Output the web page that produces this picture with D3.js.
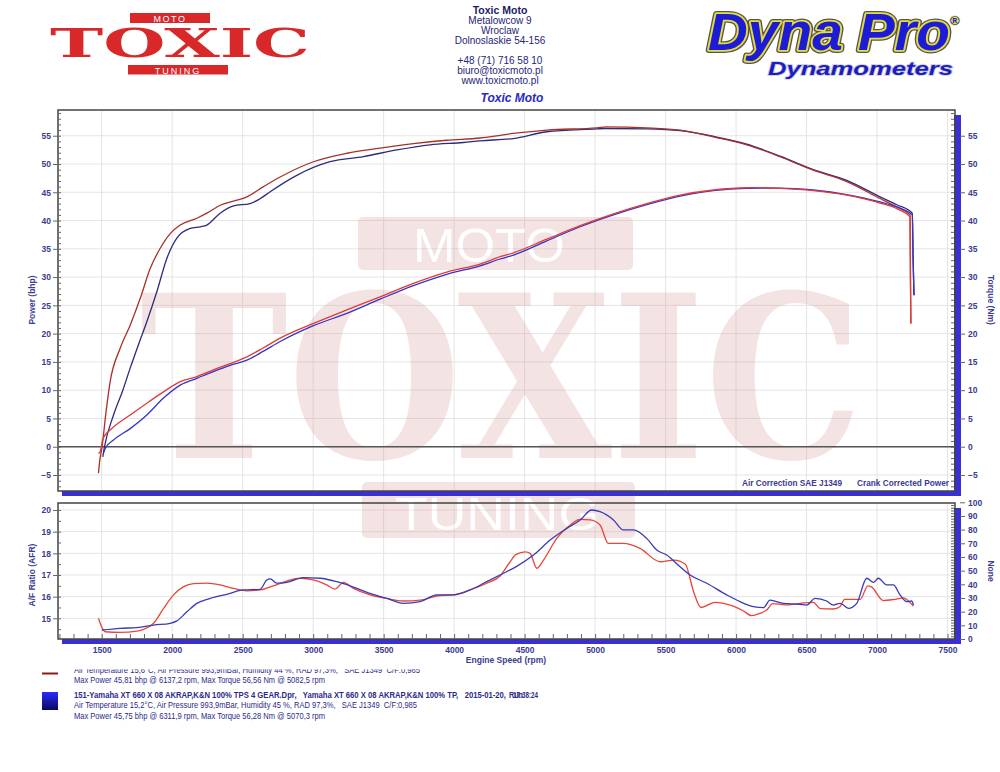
<!DOCTYPE html>
<html><head><meta charset="utf-8">
<script src="https://cdn.jsdelivr.net/npm/d3@7"></script>
<style>
body{margin:0;background:#fff}
svg{display:block}
text{font-family:"Liberation Sans",Arial,Helvetica,sans-serif;white-space:pre}
</style>
</head><body>
<svg id="c" width="1000" height="772"></svg>
<script>
// ---------------- DATA ----------------
const rpmTicks = [1500,2000,2500,3000,3500,4000,4500,5000,5500,6000,6500,7000,7500];
const powerTicks = [-5,0,5,10,15,20,25,30,35,40,45,50,55];
const torqueTicks = [-5,0,5,10,15,20,25,30,35,40,45,50,55];
const afrTicks = [15,16,17,18,19,20];
const noneTicks = [0,10,20,30,40,50,60,70,80,90,100];

// [rpm, Nm]
const torqueRed = [[1477,-4.7],[1486,-2.5],[1501,-0.3],[1530,6],[1560,11.5],[1631,17.4],[1702,21.5],[1773,26.2],[1844,31.5],[1915,35.1],[1986,37.7],[2057,39.2],[2175,40.4],[2246,41.3],[2340,42.7],[2459,43.6],[2530,44.2],[2648,46.0],[2766,47.7],[3002,50.4],[3239,51.9],[3475,52.8],[3711,53.6],[3948,54.2],[4184,54.6],[4421,55.4],[4657,56.0],[5012,56.4],[5082,56.56],[5367,56.4],[5603,56.0],[5839,54.8],[6076,53.4],[6312,51.3],[6548,48.9],[6785,46.9],[7021,43.9],[7140,42.4],[7234,41.0],[7237,30],[7240,21.8]];
const torqueBlue = [[1508,-1.8],[1520,0],[1584,5.6],[1650,10],[1702,13.9],[1760,18],[1820,22.1],[1891,27.4],[1962,33.3],[2033,36.9],[2128,38.6],[2200,38.9],[2246,39.2],[2340,41.3],[2435,42.6],[2553,43.0],[2620,43.8],[2695,45.1],[2884,48.0],[3120,50.4],[3357,51.3],[3594,52.5],[3830,53.4],[4066,53.8],[4184,54.1],[4420,54.5],[4657,55.7],[5012,56.2],[5070,56.28],[5367,56.2],[5603,55.9],[5839,54.9],[6076,53.5],[6312,51.4],[6548,49.0],[6785,47.1],[7021,44.2],[7140,42.8],[7250,41.3],[7256,33],[7262,26.8]];
// [rpm, bhp]
const powerRed = [[1477,-1.2],[1489,-0.9],[1510,1.5],[1560,2.95],[1702,5.6],[1820,7.7],[1938,9.7],[2057,11.5],[2175,12.4],[2293,13.6],[2411,14.7],[2530,15.9],[2648,17.5],[2766,19.2],[3002,21.8],[3239,24.2],[3475,26.5],[3711,28.9],[3948,30.9],[4184,32.3],[4326,33.6],[4421,34.3],[4657,36.7],[4894,39.1],[5130,41.2],[5367,43.0],[5603,44.5],[5839,45.4],[6076,45.8],[6137,45.81],[6312,45.7],[6548,45.3],[6785,44.5],[7021,43.1],[7140,42.1],[7234,40.6],[7237,30],[7240,21.8]];
const powerBlue = [[1515,-1.0],[1525,-0.3],[1584,1.2],[1702,3.2],[1820,5.6],[1938,8.6],[2057,10.9],[2175,12.1],[2293,13.3],[2411,14.4],[2530,15.3],[2648,16.9],[2766,18.6],[3002,21.4],[3239,23.6],[3475,26.1],[3711,28.5],[3948,30.5],[4184,32.0],[4326,33.2],[4421,33.9],[4657,36.4],[4894,38.9],[5130,41.0],[5367,42.8],[5603,44.3],[5839,45.3],[6076,45.7],[6312,45.75],[6548,45.4],[6785,44.6],[7021,43.3],[7140,42.4],[7250,41.0],[7256,33],[7262,26.8]];
// [rpm, AFR]
const afrRed = [[1477,15.0],[1489,14.77],[1525,14.38],[1631,14.35],[1750,14.41],[1797,14.49],[1868,14.77],[1939,15.46],[2010,16.08],[2081,16.46],[2152,16.6],[2246,16.62],[2340,16.54],[2435,16.38],[2530,16.27],[2624,16.31],[2718,16.5],[2813,16.72],[2907,16.85],[3002,16.77],[3096,16.54],[3156,16.35],[3215,16.66],[3286,16.38],[3404,16.08],[3522,15.92],[3641,15.8],[3759,15.84],[3877,16.03],[3995,16.08],[4113,16.31],[4232,16.62],[4326,16.95],[4397,17.61],[4440,17.95],[4504,18.07],[4539,18.0],[4587,17.31],[4634,17.69],[4728,18.69],[4823,19.31],[4894,19.57],[4965,19.54],[5035,19.31],[5094,18.46],[5200,18.46],[5319,18.23],[5461,17.61],[5560,17.69],[5640,17.5],[5700,16.2],[5750,15.5],[5850,15.74],[5981,15.56],[6050,15.35],[6110,15.12],[6170,15.23],[6217,15.38],[6260,15.68],[6350,15.62],[6454,15.69],[6548,15.74],[6596,15.45],[6690,15.43],[6738,15.55],[6770,15.87],[6880,15.87],[6935,16.5],[6960,16.45],[7045,15.82],[7120,15.87],[7187,15.94],[7230,15.75],[7258,15.56]];
const afrBlue = [[1501,14.46],[1631,14.54],[1750,14.57],[1868,14.69],[1986,14.77],[2033,14.88],[2104,15.3],[2175,15.69],[2270,15.92],[2388,16.11],[2506,16.31],[2624,16.34],[2671,16.77],[2695,16.82],[2742,16.62],[2813,16.66],[2931,16.88],[3050,16.85],[3168,16.69],[3262,16.5],[3404,16.15],[3522,15.92],[3641,15.69],[3759,15.77],[3877,16.08],[3995,16.08],[4113,16.31],[4232,16.69],[4350,17.08],[4444,17.4],[4563,17.92],[4681,18.61],[4799,19.15],[4894,19.54],[4976,20.0],[5035,19.92],[5130,19.54],[5200,19.08],[5271,19.08],[5366,18.69],[5437,18.15],[5508,17.92],[5603,17.38],[5674,17.0],[5792,16.62],[5934,16.08],[6028,15.77],[6123,15.54],[6194,15.49],[6241,15.84],[6336,15.69],[6454,15.65],[6501,15.61],[6560,15.92],[6643,15.8],[6690,15.61],[6738,15.69],[6797,15.46],[6856,15.69],[6927,16.85],[6974,16.66],[7009,16.85],[7069,16.54],[7116,16.54],[7163,16.08],[7210,15.77],[7246,15.8],[7258,15.61]];

const headerLines = ["Metalowcow 9","Wroclaw","Dolnoslaskie 54-156"];
const contactLines = ["+48 (71) 716 58 10","biuro@toxicmoto.pl","www.toxicmoto.pl"];
const run1Text = ["Air Temperature 15,6°C, Air Pressure 993,9mBar, Humidity 44 %, RAD 97,3%,   SAE J1349  C/F:0,985",
                  "Max Power 45,81 bhp @ 6137,2 rpm, Max Torque 56,56 Nm @ 5082,5 rpm"];
const run2Text = ["151-Yamaha XT 660 X 08 AKRAP,K&N 100% TPS 4 GEAR.Dpr,   Yamaha XT 660 X 08 AKRAP,K&N 100% TP,   2015-01-20,",
                  "Air Temperature 15,2°C, Air Pressure 993,9mBar, Humidity 45 %, RAD 97,3%,   SAE J1349  C/F:0,985",
                  "Max Power 45,75 bhp @ 6311,9 rpm, Max Torque 56,28 Nm @ 5070,3 rpm"];

// ---------------- LAYOUT ----------------
const svg = d3.select('#c');
const FX0 = 58, FX1 = 955;
const T0 = 110, T1 = 491;   // top frame
const B0 = 503, B1 = 639;   // bottom frame
const navy = '#3b3b92';
const blueBar = '#3a30d2';
const fmt = d3.format('d');

const x = d3.scaleLinear().domain([1190,7553]).range([FX0,FX1]);
const yTop = d3.scaleLinear().domain([-7.83,59.55]).range([T1,T0]);
const yAfr = d3.scaleLinear().domain([14.045,20.323]).range([B1,B0]);
const yNone = d3.scaleLinear().domain([0,100]).range([B1,502.3]);

const defs = svg.append('defs');
defs.append('clipPath').attr('id','clipTop').append('rect').attr('x',FX0).attr('y',T0).attr('width',FX1-FX0).attr('height',T1-T0);
defs.append('clipPath').attr('id','clipBot').append('rect').attr('x',FX0).attr('y',B0).attr('width',FX1-FX0).attr('height',B1-B0);
defs.append('clipPath').attr('id','clipLeg').append('rect').attr('x',0).attr('y',669.2).attr('width',1000).attr('height',12);
const grad = defs.append('linearGradient').attr('id','sw').attr('x1',0).attr('y1',0).attr('x2',0).attr('y2',1);
grad.append('stop').attr('offset','0%').attr('stop-color','#2a2aff');
grad.append('stop').attr('offset','100%').attr('stop-color','#0a0a5a');

// ---------- grid ----------
const grid = svg.append('g').attr('stroke','#e4e4e4').attr('stroke-width',1);
grid.selectAll('.vt').data(rpmTicks).join('line').attr('class','vt')
  .attr('x1',d=>x(d)).attr('x2',d=>x(d)).attr('y1',T0).attr('y2',T1);
grid.selectAll('.ht').data(powerTicks).join('line').attr('class','ht')
  .attr('x1',FX0).attr('x2',FX1).attr('y1',d=>yTop(d)).attr('y2',d=>yTop(d));
grid.selectAll('.vb').data(rpmTicks).join('line').attr('class','vb')
  .attr('x1',d=>x(d)).attr('x2',d=>x(d)).attr('y1',B0).attr('y2',B1);
grid.selectAll('.hb').data(afrTicks).join('line').attr('class','hb')
  .attr('x1',FX0).attr('x2',FX1).attr('y1',d=>yAfr(d)).attr('y2',d=>yAfr(d));

// ---------- watermark ----------
const wm = svg.append('g').attr('opacity',0.27);
wm.append('rect').attr('x',358).attr('y',217).attr('width',275).attr('height',53).attr('rx',5).attr('fill','#d99a9a');
wm.append('text').attr('x',413).attr('y',262).attr('font-size',49).attr('fill','#fff')
  .attr('textLength',152).attr('lengthAdjust','spacingAndGlyphs').text('MOTO');
wm.append('text').attr('x',140).attr('y',458).attr('font-size',226).attr('font-weight','bold')
  .style('font-family','"DejaVu Serif","Liberation Serif",serif')
  .attr('fill','#d99a9a').attr('textLength',723).attr('lengthAdjust','spacingAndGlyphs').text('TOXIC');
wm.append('rect').attr('x',362).attr('y',482).attr('width',273).attr('height',56).attr('rx',5).attr('fill','#d99a9a');
wm.append('text').attr('x',395).attr('y',530).attr('font-size',46).attr('fill','#fff')
  .attr('textLength',205).attr('lengthAdjust','spacingAndGlyphs').text('TUNING');

// ---------- blue shadow strips ----------
[[T0,T1],[B0,B1]].forEach(([a,b])=>{
  svg.append('rect').attr('x',FX0+4).attr('y',b).attr('width',FX1-FX0+2).attr('height',5).attr('fill',blueBar);
  svg.append('rect').attr('x',FX1-1).attr('y',a+5).attr('width',7).attr('height',b-a).attr('fill',blueBar);
});

// ---------- frames ----------
[[T0,T1],[B0,B1]].forEach(([a,b])=>{
  svg.append('rect').attr('x',FX0).attr('y',a).attr('width',FX1-FX0).attr('height',b-a)
    .attr('fill','none').attr('stroke','#444').attr('stroke-width',1.5);
});
svg.append('line').attr('x1',FX0).attr('x2',FX1).attr('y1',yTop(0)).attr('y2',yTop(0))
  .attr('stroke','#555').attr('stroke-width',1.3);

// ---------- axes ----------
function styleAxis(g){
  g.select('.domain').remove();
  g.selectAll('line').attr('stroke','#666');
  g.selectAll('text').attr('font-size',8.5).attr('font-weight','bold').attr('fill',navy)
    .style('font-family','"Liberation Sans",Arial,sans-serif');
}
svg.append('g').attr('transform',`translate(${FX0},0)`)
  .call(d3.axisLeft(yTop).tickValues(powerTicks).tickFormat(fmt).tickSize(5).tickPadding(2)).call(styleAxis);
svg.append('g').attr('transform',`translate(${FX0},0)`)
  .call(d3.axisRight(yTop).tickValues(d3.range(-7,60,1)).tickSize(3).tickFormat('')).call(styleAxis);
svg.append('g').attr('transform',`translate(960,0)`)
  .call(d3.axisRight(yTop).tickValues(torqueTicks).tickFormat(fmt).tickSize(5).tickPadding(3)).call(styleAxis);
svg.append('g').attr('transform',`translate(${FX1-1},0)`)
  .call(d3.axisLeft(yTop).tickValues(d3.range(-7,60,1)).tickSize(3).tickFormat('')).call(styleAxis);
svg.append('g').attr('transform',`translate(${FX0},0)`)
  .call(d3.axisLeft(yAfr).tickValues(afrTicks).tickFormat(fmt).tickSize(5).tickPadding(2)).call(styleAxis);
svg.append('g').attr('transform',`translate(${FX0},0)`)
  .call(d3.axisRight(yAfr).tickValues(d3.range(14.5,20.3,0.5)).tickSize(3).tickFormat('')).call(styleAxis);
svg.append('g').attr('transform',`translate(960,0)`)
  .call(d3.axisRight(yNone).tickValues(noneTicks).tickFormat(fmt).tickSize(5).tickPadding(3)).call(styleAxis);
svg.append('g').attr('transform',`translate(${FX1-1},0)`)
  .call(d3.axisLeft(yNone).tickValues(d3.range(2,100,2)).tickSize(3).tickFormat('')).call(styleAxis);
svg.append('g').attr('transform',`translate(0,${B1+5})`)
  .call(d3.axisBottom(x).tickValues(rpmTicks).tickFormat(fmt).tickSize(0).tickPadding(3)).call(styleAxis);
svg.append('g').attr('transform',`translate(0,${B1})`)
  .call(d3.axisTop(x).tickValues(d3.range(1200,7600,100)).tickSize(5).tickFormat('')).call(styleAxis);

// ---------- curves ----------
const lineTop = d3.line().x(d=>x(d[0])).y(d=>yTop(d[1])).curve(d3.curveMonotoneX);
const lineAfr = d3.line().x(d=>x(d[0])).y(d=>yAfr(d[1])).curve(d3.curveMonotoneX);
const gTop = svg.append('g').attr('clip-path','url(#clipTop)').attr('fill','none').attr('stroke-width',1.3);
[[torqueBlue,'#2c2c7a'],[torqueRed,'#a8302c'],[powerBlue,'#3434c8'],[powerRed,'#e03a3a']].forEach(([d,c])=>{
  gTop.append('path').datum(d).attr('d',lineTop).attr('stroke',c);
});
const gBot = svg.append('g').attr('clip-path','url(#clipBot)').attr('fill','none').attr('stroke-width',1.3);
[[afrRed,'#e8463a'],[afrBlue,'#3a3ab8']].forEach(([d,c])=>{
  gBot.append('path').datum(d).attr('d',lineAfr).attr('stroke',c);
});

// ---------- axis titles ----------
function title(txt,xx,yy,rot){
  svg.append('text').attr('transform',`translate(${xx},${yy}) rotate(${rot})`).attr('text-anchor','middle')
    .attr('font-size',8.5).attr('font-weight','bold').attr('fill',navy).text(txt);
}
title('Power (bhp)',35,300,-90);
title('Torque (Nm)',988,300,90);
title('A/F Ratio (AFR)',35,575,-90);
title('None',988,571,90);
svg.append('text').attr('x',506).attr('y',663).attr('text-anchor','middle').attr('font-size',8.5)
  .attr('font-weight','bold').attr('fill',navy).text('Engine Speed (rpm)');
svg.append('text').attr('x',742).attr('y',486).attr('font-size',8.5).attr('font-weight','bold').attr('fill',navy)
  .attr('textLength',100).attr('lengthAdjust','spacingAndGlyphs').text('Air Correction SAE J1349');
svg.append('text').attr('x',857).attr('y',486).attr('font-size',8.5).attr('font-weight','bold').attr('fill',navy)
  .attr('textLength',92).attr('lengthAdjust','spacingAndGlyphs').text('Crank Corrected Power');

// ---------- header ----------
const hc = '#25257a';
svg.append('text').attr('x',500).attr('y',14).attr('text-anchor','middle').attr('font-size',10.5)
  .attr('font-weight','bold').attr('fill','#1a1a66').text('Toxic Moto');
svg.selectAll('.hl').data(headerLines).join('text').attr('class','hl')
  .attr('x',500).attr('y',(d,i)=>24+i*10).attr('text-anchor','middle').attr('font-size',10).attr('fill',hc).text(d=>d);
svg.selectAll('.cl').data(contactLines).join('text').attr('class','cl')
  .attr('x',500).attr('y',(d,i)=>64+i*9.8).attr('text-anchor','middle').attr('font-size',10).attr('fill',hc).text(d=>d);
svg.append('text').attr('x',512).attr('y',102).attr('text-anchor','middle').attr('font-size',12)
  .attr('font-weight','bold').attr('font-style','italic').attr('fill','#2a2ac0').text('Toxic Moto');

// Toxic logo
const red = '#d8282a';
svg.append('rect').attr('x',130).attr('y',13).attr('width',80).attr('height',10).attr('fill',red);
svg.append('text').attr('x',170).attr('y',21.5).attr('text-anchor','middle').attr('font-size',9).attr('fill','#fff')
  .attr('letter-spacing',1.5).text('MOTO');
svg.append('text').attr('x',50).attr('y',57).attr('font-size',40).attr('font-weight','bold')
  .style('font-family','"DejaVu Serif","Liberation Serif",serif').attr('fill',red)
  .attr('textLength',260).attr('lengthAdjust','spacingAndGlyphs').text('TOXIC');
svg.append('rect').attr('x',128).attr('y',65).attr('width',100).attr('height',9.5).attr('fill',red);
svg.append('text').attr('x',178).attr('y',73.5).attr('text-anchor','middle').attr('font-size',9).attr('fill','#fff')
  .attr('letter-spacing',2).text('TUNING');

// Dyna Pro logo
const dp = svg.append('g').attr('font-style','italic').attr('font-weight','bold');
dp.append('text').attr('x',708).attr('y',50).attr('font-size',51).attr('textLength',242).attr('lengthAdjust','spacingAndGlyphs')
  .attr('fill','none').attr('stroke','#555').attr('stroke-width',6).attr('stroke-linejoin','round').text('Dyna Pro');
dp.append('text').attr('x',708).attr('y',50).attr('font-size',51).attr('textLength',242).attr('lengthAdjust','spacingAndGlyphs')
  .attr('fill','#1c1cd6').attr('stroke','#e6dc3c').attr('stroke-width',3.5).attr('stroke-linejoin','round')
  .style('paint-order','stroke').text('Dyna Pro');
dp.append('text').attr('x',950).attr('y',25).attr('font-size',13).attr('font-style','normal')
  .attr('fill','#1c1cd6').attr('stroke','#e6dc3c').attr('stroke-width',1.5).style('paint-order','stroke').text('®');
dp.append('text').attr('x',768).attr('y',75).attr('font-size',18).attr('textLength',185).attr('lengthAdjust','spacingAndGlyphs')
  .attr('fill','#1c1cc0').attr('stroke','#c9c9df').attr('stroke-width',1.5).style('paint-order','stroke').text('Dynamometers');

// ---------- legend ----------
const lc = '#2a2a8a';
svg.append('line').attr('x1',42).attr('x2',58).attr('y1',673.5).attr('y2',673.5).attr('stroke','#8b1a1a').attr('stroke-width',2);
svg.append('text').attr('x',74).attr('y',672.5).attr('font-size',9).attr('fill',lc).attr('clip-path','url(#clipLeg)')
  .attr('textLength',346).attr('lengthAdjust','spacingAndGlyphs').text(run1Text[0]);
svg.append('text').attr('x',74).attr('y',683).attr('font-size',9).attr('fill',lc)
  .attr('textLength',251).attr('lengthAdjust','spacingAndGlyphs').text(run1Text[1]);
svg.append('rect').attr('x',42).attr('y',692).attr('width',16).attr('height',18).attr('fill','url(#sw)');
svg.append('text').attr('x',74).attr('y',697.5).attr('font-size',9).attr('font-weight','bold').attr('fill',lc)
  .attr('textLength',432).attr('lengthAdjust','spacingAndGlyphs').text(run2Text[0]);
svg.append('text').attr('x',509).attr('y',697.5).attr('font-size',9).attr('font-weight','bold').attr('fill',lc)
  .attr('textLength',14).attr('lengthAdjust','spacingAndGlyphs').text('Run');
svg.append('text').attr('x',513).attr('y',697.5).attr('font-size',9).attr('font-weight','bold').attr('fill',lc)
  .attr('textLength',25).attr('lengthAdjust','spacingAndGlyphs').text('17:38:24');
svg.append('text').attr('x',74).attr('y',708).attr('font-size',9).attr('fill',lc)
  .attr('textLength',343).attr('lengthAdjust','spacingAndGlyphs').text(run2Text[1]);
svg.append('text').attr('x',74).attr('y',718.5).attr('font-size',9).attr('fill',lc)
  .attr('textLength',251).attr('lengthAdjust','spacingAndGlyphs').text(run2Text[2]);
</script>
</body></html>
